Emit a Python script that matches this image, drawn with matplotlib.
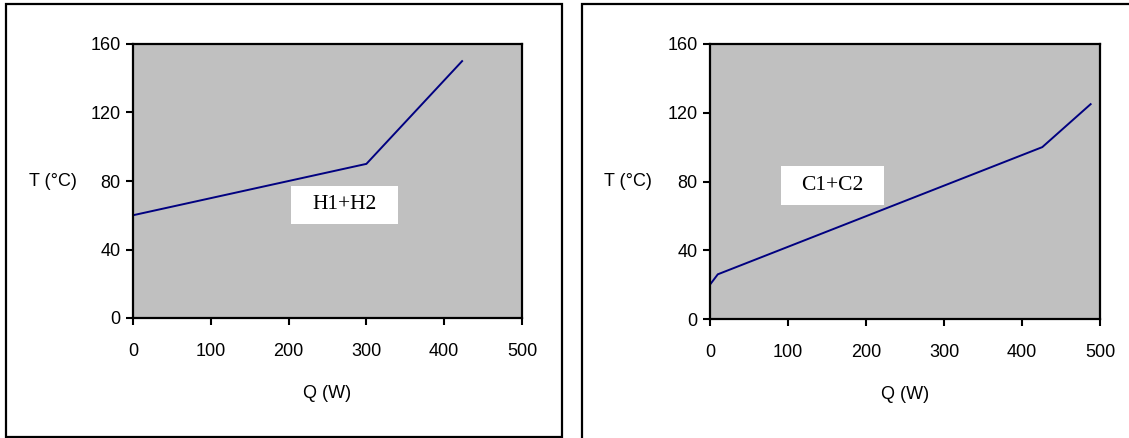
import matplotlib
matplotlib.use("Agg")
import matplotlib.pyplot as plt
from matplotlib.patches import Rectangle

# data
hot_q = [0, 300, 423]
hot_t = [60, 90, 150]
cold_q = [0, 10, 426, 488]
cold_t = [20, 26, 100, 125]
x_ticks = [0, 100, 200, 300, 400, 500]
y_ticks = [0, 40, 80, 120, 160]
hot_label = "H1+H2"
cold_label = "C1+C2"

W, H = 1129, 438
fig = plt.figure(figsize=(W / 100, H / 100), dpi=100)
fig.patch.set_facecolor("white")

sans = "Liberation Sans"
serif = "Liberation Serif"
fs = 13


def px_box(x0, y0, x1, y1):
    # pixel box (top-left origin) -> figure fraction rect
    return [x0 / W, 1 - y1 / H, (x1 - x0) / W, (y1 - y0) / H]


# outer panel frames
for (x0, y0, x1, y1) in [(6, 4, 562, 436.5), (582, 4, 1140, 450)]:
    r = px_box(x0, y0, x1, y1)
    fig.patches.append(Rectangle((r[0], r[1]), r[2], r[3], transform=fig.transFigure,
                                 fill=False, edgecolor="black", linewidth=1.6, clip_on=False))


def panel(rect, q, t, label, lbox, ylab_x):
    ax = fig.add_axes(px_box(*rect))
    ax.set_facecolor("#c0c0c0")
    ax.plot(q, t, color="#000080", linewidth=1.4, solid_joinstyle="miter")
    ax.set_xlim(0, 500)
    ax.set_ylim(0, 160)
    ax.set_xticks(x_ticks)
    ax.set_yticks(y_ticks)
    for s in ax.spines.values():
        s.set_linewidth(1.6)
    ax.tick_params(direction="out", length=5, width=1.5, labelsize=fs)
    ax.tick_params(axis="x", pad=13)
    ax.tick_params(axis="y", pad=4)
    for lab in ax.get_xticklabels() + ax.get_yticklabels():
        lab.set_fontfamily(sans)
    ax.set_xlabel("Q (W)", fontsize=fs, family=sans, labelpad=18)
    ax.text(ylab_x, 0.5, "T (°C)", transform=ax.transAxes, fontsize=fs, family=sans,
            ha="center", va="center")
    bx0, by0, bx1, by1 = lbox
    ax.add_patch(Rectangle((bx0, by0), bx1 - bx0, by1 - by0, transform=ax.transAxes,
                           facecolor="white", edgecolor="none", zorder=3))
    ax.text((bx0 + bx1) / 2, (by0 + by1) / 2, label, transform=ax.transAxes,
            fontsize=15.5, family=serif, ha="center", va="center", zorder=4)
    return ax


panel((133, 44, 522, 318), hot_q, hot_t, hot_label, (0.407, 0.343, 0.680, 0.482), -0.205)
panel((710, 44, 1100, 319), cold_q, cold_t, cold_label, (0.182, 0.414, 0.447, 0.557), -0.21)

fig.savefig("out.png", dpi=100)
